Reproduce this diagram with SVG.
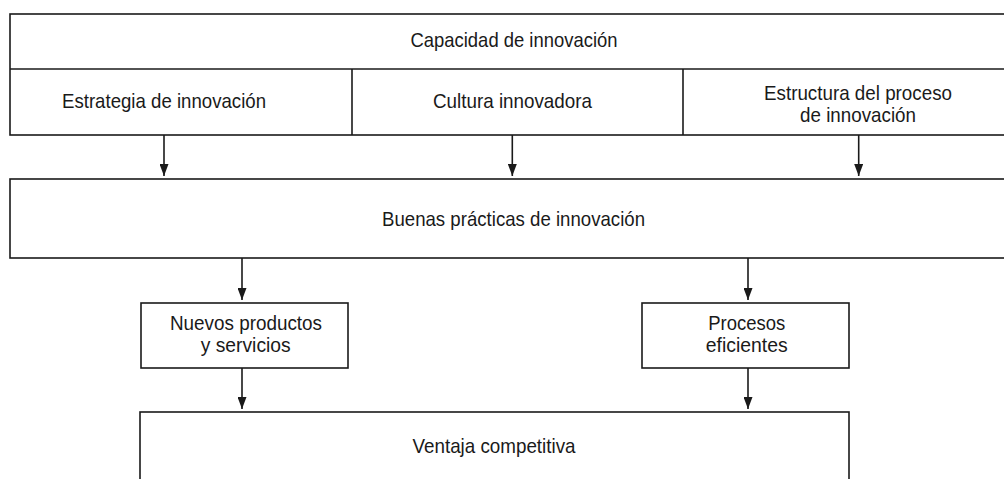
<svg xmlns="http://www.w3.org/2000/svg" width="1004" height="479" viewBox="0 0 1004 479">
<defs>
<style>
.box{fill:#fff;stroke:#1a1a1a;stroke-width:1.6}
.ln{fill:none;stroke:#1a1a1a;stroke-width:1.6}
.t{font-family:"Liberation Sans Narrow","Liberation Sans",Arial,sans-serif;font-size:21px;fill:#1a1a1a;text-anchor:middle}
</style>
<marker id="ah" markerUnits="userSpaceOnUse" markerWidth="12" markerHeight="9" refX="12" refY="4.5" orient="auto" viewBox="0 0 12 9">
<path d="M0,0 L12,4.5 L0,9 Z" fill="#1a1a1a"/>
</marker>
</defs>
<rect width="1004" height="479" fill="#fff"/>
<g id="capacidad">
<rect class="box" x="10" y="14" width="1010" height="121"/>
<line class="ln" x1="10" y1="69" x2="1010" y2="69"/>
<line class="ln" x1="352" y1="69" x2="352" y2="135"/>
<line class="ln" x1="683" y1="69" x2="683" y2="135"/>
<text class="t" x="514" y="47" textLength="207" lengthAdjust="spacingAndGlyphs">Capacidad de innovación</text>
</g>
<g id="estrategia">
<text class="t" x="164" y="108" textLength="204" lengthAdjust="spacingAndGlyphs">Estrategia de innovación</text>
</g>
<g id="cultura">
<text class="t" x="512.5" y="108" textLength="159" lengthAdjust="spacingAndGlyphs">Cultura innovadora</text>
</g>
<g id="estructura">
<text class="t" x="858" y="100" textLength="188" lengthAdjust="spacingAndGlyphs">Estructura del proceso</text>
<text class="t" x="858" y="122" textLength="116" lengthAdjust="spacingAndGlyphs">de innovación</text>
</g>
<g id="buenas">
<rect class="box" x="10" y="179" width="1010" height="79"/>
<text class="t" x="513.5" y="226" textLength="263" lengthAdjust="spacingAndGlyphs">Buenas prácticas de innovación</text>
</g>
<g id="nuevos">
<rect class="box" x="141" y="303" width="207" height="65"/>
<text class="t" x="246" y="330" textLength="152" lengthAdjust="spacingAndGlyphs">Nuevos productos</text>
<text class="t" x="245.7" y="352" textLength="90" lengthAdjust="spacingAndGlyphs">y servicios</text>
</g>
<g id="procesos">
<rect class="box" x="642" y="303" width="207" height="65"/>
<text class="t" x="746.7" y="330" textLength="77" lengthAdjust="spacingAndGlyphs">Procesos</text>
<text class="t" x="746.7" y="352" textLength="82" lengthAdjust="spacingAndGlyphs">eficientes</text>
</g>
<g id="ventaja">
<rect class="box" x="140" y="412" width="709" height="80"/>
<text class="t" x="494" y="453" textLength="163" lengthAdjust="spacingAndGlyphs">Ventaja competitiva</text>
</g>
<g id="connectors">
<line class="ln" x1="164" y1="135" x2="164" y2="176" marker-end="url(#ah)"/>
<line class="ln" x1="512.3" y1="135" x2="512.3" y2="176" marker-end="url(#ah)"/>
<line class="ln" x1="858.7" y1="135" x2="858.7" y2="176" marker-end="url(#ah)"/>
<line class="ln" x1="242" y1="258" x2="242" y2="300" marker-end="url(#ah)"/>
<line class="ln" x1="748" y1="258" x2="748" y2="300" marker-end="url(#ah)"/>
<line class="ln" x1="242" y1="368" x2="242" y2="409" marker-end="url(#ah)"/>
<line class="ln" x1="748" y1="368" x2="748" y2="409" marker-end="url(#ah)"/>
</g>
</svg>
